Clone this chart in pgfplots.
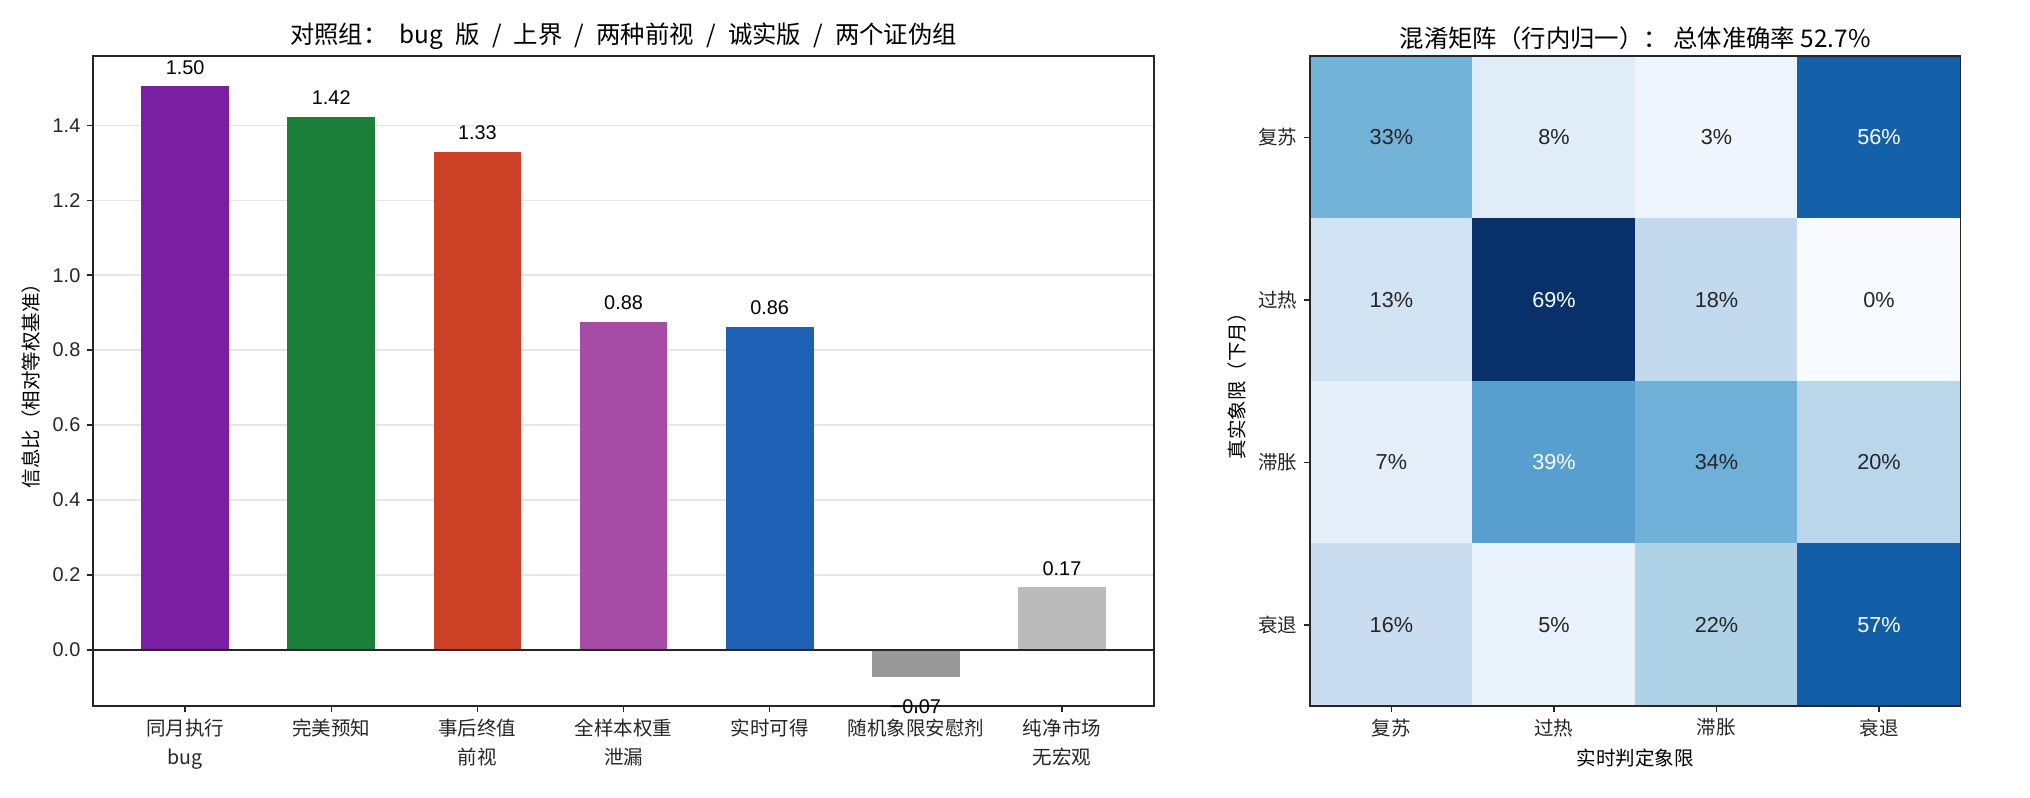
\documentclass[border=0pt]{standalone}
\usepackage{fontspec}
\setmainfont{Noto Sans CJK SC}
\newfontfamily\numfont{Liberation Sans}
\usepackage{pgfplots}
\pgfplotsset{compat=1.18}
\usepgfplotslibrary{colorbrewer}

\definecolor{cPurple}{HTML}{7B1FA2}
\definecolor{cGreen}{HTML}{1B7F3A}
\definecolor{cRed}{HTML}{CC4125}
\definecolor{cLPurple}{HTML}{A64CA6}
\definecolor{cBlue}{HTML}{1F5FB4}
\definecolor{cGrey}{HTML}{999999}
\definecolor{cLGrey}{HTML}{BBBBBB}
\definecolor{axisgray}{HTML}{262626}
\definecolor{gridgray}{HTML}{E6E6E6}

\newcommand{\tsp}{\hspace{0.5em}}

\pgfplotsset{
  mystyle/.style={
    scale only axis,
    anchor=south west,
    /pgf/number format/assume math mode=true,
    tick align=outside,
    tick pos=left,
    major tick length=3.5pt,
    axis line style={axisgray, line width=0.8pt},
    tick style={axisgray, line width=0.8pt},
    tick label style={font=\fontsize{10.8}{16}\selectfont, text=axisgray},
    label style={font=\fontsize{10.8}{13}\selectfont},
    title style={font=\fontsize{13.5}{16}\selectfont, yshift=-6pt},
  },
  barlab/.style={point meta=explicit symbolic, nodes near coords,
    every node near coord/.style={font=\numfont\fontsize{11}{13}\selectfont, text=black, yshift=3pt}},
}

\begin{document}
\begin{tikzpicture}
\path[use as bounding box] (0,0) rectangle (1124pt,441.3pt);

% left: bar chart
\begin{axis}[
  mystyle,
  at={(51.5pt,50.3pt)},
  width=587.5pt, height=360pt,
  xmin=-0.63, xmax=6.63,
  ymin=-0.150, ymax=1.585,
  xtick={0,1,2,3,4,5,6},
  xticklabels={{同月执行\\bug},{完美预知},{事后终值\\前视},{全样本权重\\泄漏},{实时可得},{随机象限安慰剂},{纯净市场\\无宏观}},
  xticklabel style={align=center},
  ytick={0,0.2,0.4,0.6,0.8,1.0,1.2,1.4},
  yticklabel style={font=\numfont\fontsize{11}{13}\selectfont, /pgf/number format/.cd, fixed, precision=1, fixed zerofill},
  ymajorgrids,
  grid style={gridgray, line width=0.8pt},
  title={对照组：\tsp bug\tsp 版\tsp /\tsp 上界\tsp /\tsp 两种前视\tsp /\tsp 诚实版\tsp /\tsp 两个证伪组},
  ylabel={信息比（相对等权基准）},
]
\addplot[ybar, bar shift=0pt, bar width=0.6, fill=cPurple, draw=none, barlab] coordinates {(0,1.504) [1.50]};
\addplot[ybar, bar shift=0pt, bar width=0.6, fill=cGreen, draw=none, barlab] coordinates {(1,1.423) [1.42]};
\addplot[ybar, bar shift=0pt, bar width=0.6, fill=cRed, draw=none, barlab] coordinates {(2,1.330) [1.33]};
\addplot[ybar, bar shift=0pt, bar width=0.6, fill=cLPurple, draw=none, barlab] coordinates {(3,0.876) [0.88]};
\addplot[ybar, bar shift=0pt, bar width=0.6, fill=cBlue, draw=none, barlab] coordinates {(4,0.862) [0.86]};
\addplot[ybar, bar shift=0pt, bar width=0.6, fill=cGrey, draw=none, barlab,
  every node near coord/.append style={anchor=north, yshift=-12pt}] coordinates {(5,-0.072) [−0.07]};
\addplot[ybar, bar shift=0pt, bar width=0.6, fill=cLGrey, draw=none, barlab] coordinates {(6,0.168) [0.17]};
% zero line
\addplot[axisgray, line width=0.8pt, forget plot] coordinates {(-0.63,0) (6.63,0)};
\end{axis}

% right: confusion matrix
\begin{axis}[
  mystyle,
  at={(725.4pt,50.3pt)},
  width=360pt, height=360pt,
  xmin=-0.5, xmax=3.5, ymin=-0.5, ymax=3.5,
  y dir=reverse,
  axis on top,
  enlargelimits=false,
  xtick={0,1,2,3}, ytick={0,1,2,3},
  xticklabels={复苏,过热,滞胀,衰退},
  yticklabels={复苏,过热,滞胀,衰退},
  colormap/Blues,
  point meta min=0, point meta max=0.69,
  title={混淆矩阵（行内归一）： 总体准确率 52.7\%},
  xlabel={实时判定象限},
  ylabel={真实象限（下月）},
]
\addplot[matrix plot*, mesh/cols=4, point meta=explicit] table[meta=c] {
x y c
0 0 0.33
1 0 0.08
2 0 0.03
3 0 0.56
0 1 0.13
1 1 0.69
2 1 0.18
3 1 0.00
0 2 0.07
1 2 0.39
2 2 0.34
3 2 0.20
0 3 0.16
1 3 0.05
2 3 0.22
3 3 0.57
};
% dark cell labels
\addplot[draw=none, mark=none, point meta=explicit symbolic, nodes near coords,
  every node near coord/.style={anchor=center, text=axisgray, font=\numfont\fontsize{12}{14}\selectfont}]
  table[meta=t] {
x y t
0 0 33\%
1 0 8\%
2 0 3\%
0 1 13\%
2 1 18\%
3 1 0\%
0 2 7\%
2 2 34\%
3 2 20\%
0 3 16\%
1 3 5\%
2 3 22\%
};
% white cell labels
\addplot[draw=none, mark=none, point meta=explicit symbolic, nodes near coords,
  every node near coord/.style={anchor=center, text=white, font=\numfont\fontsize{12}{14}\selectfont}]
  table[meta=t] {
x y t
3 0 56\%
1 1 69\%
1 2 39\%
3 3 57\%
};
\end{axis}
\end{tikzpicture}
\end{document}
